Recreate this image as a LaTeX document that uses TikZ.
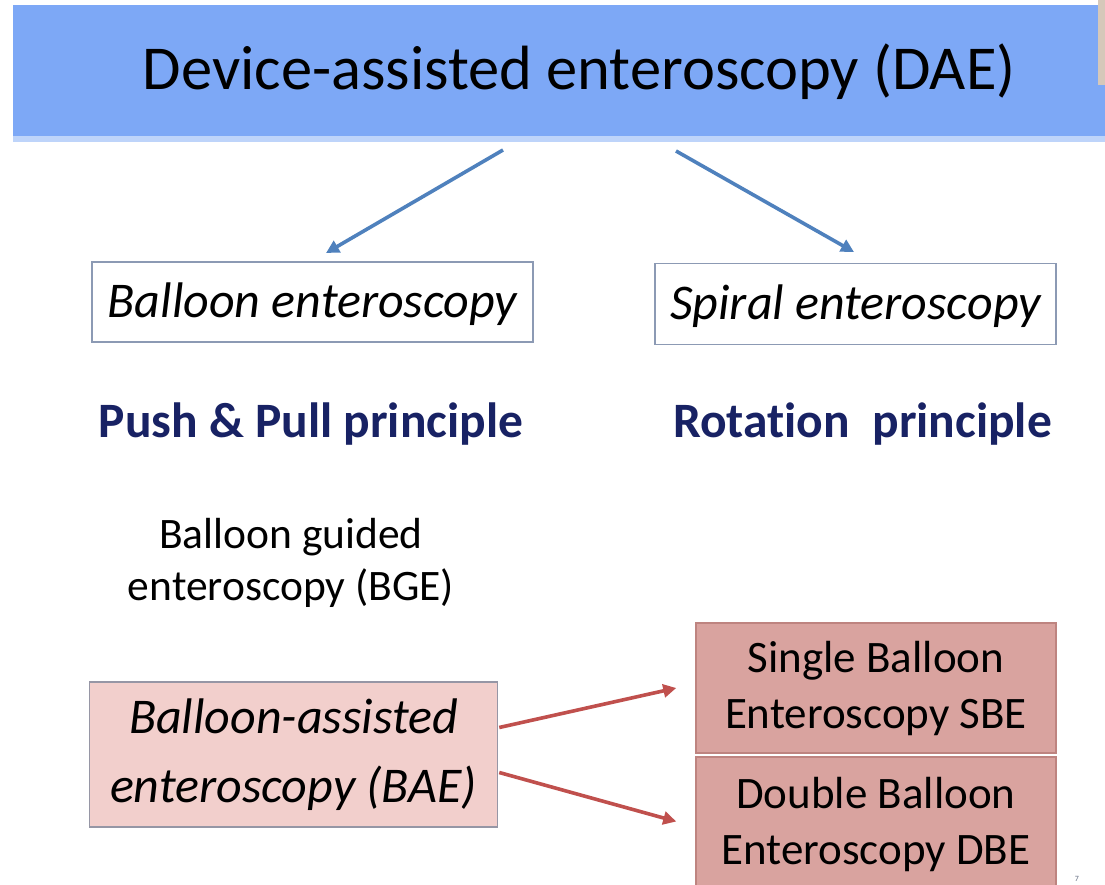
\documentclass[tikz,border=0pt]{standalone}
\usepackage{fontspec}
\setmainfont{Carlito}[Ligatures=NoCommon]
\usetikzlibrary{arrows.meta,calc}
\definecolor{bannerblue}{RGB}{125,168,246}
\definecolor{bannerlite}{RGB}{190,212,250}
\definecolor{arrowblue}{RGB}{79,129,189}
\definecolor{boxline}{RGB}{140,154,180}
\definecolor{navy}{RGB}{24,34,100}
\definecolor{baefill}{RGB}{242,207,204}
\definecolor{baeline}{RGB}{150,150,165}
\definecolor{sbefill}{RGB}{217,163,159}
\definecolor{sbeline}{RGB}{190,132,128}
\definecolor{arrowred}{RGB}{192,80,77}
\definecolor{edgegray}{RGB}{214,200,186}
\definecolor{pagenum}{RGB}{100,110,130}
\begin{document}
\begin{tikzpicture}[x=1pt,y=-1pt,
  bluearrow/.style={draw=arrowblue, line width=3.6pt, -{Triangle[length=13pt,width=13pt]}},
  redarrow/.style={draw=arrowred, line width=3.6pt, -{Triangle[length=13pt,width=13pt]}},
  whitebox/.style={draw=boxline, line width=1.5pt, fill=white, inner sep=0pt,
    font=\fontsize{50}{60}\selectfont\itshape, text height=40pt, text depth=10pt},
  principle/.style={anchor=base, text=navy, font=\fontsize{49.5}{60}\selectfont\bfseries},
  pinkbox/.style={draw=baeline, line width=1.5pt, fill=baefill, inner sep=0pt, align=center,
    font=\fontsize{50}{69}\selectfont\itshape},
  rosebox/.style={draw=sbeline, line width=1.5pt, fill=sbefill, inner sep=0pt, align=center,
    font=\fontsize{45}{56}\selectfont}
]
\useasboundingbox (0,0) rectangle (1105,885);
\fill[white] (0,0) rectangle (1105,885);
\fill[bannerlite] (13,134) rectangle (1105,142);
\node[fill=bannerblue, minimum width=1092pt, minimum height=131pt, inner sep=0pt,
  anchor=north west, font=\fontsize{62.5}{74}\selectfont, text height=48pt, text depth=11pt]
  (title) at (13,5) {\hspace*{40pt}Device-assisted enteroscopy (DAE)};
\fill[edgegray] (1098,0) rectangle (1105,85);

\node[whitebox, minimum width=441pt, minimum height=80pt] (balloon) at (312.5,302) {Balloon enteroscopy};
\node[whitebox, minimum width=401pt, minimum height=81pt] (spiral) at (855.5,304) {Spiral enteroscopy};

\node[principle] (push) at (311,437) {Push \& Pull principle};
\node[principle] (rotation) at (862.5,437) {Rotation\ \ principle};

\node[align=center, font=\fontsize{43.5}{52}\selectfont] (bge) at (291,563) {Balloon guided\\enteroscopy (BGE)};

\node[pinkbox, minimum width=408pt, minimum height=145pt] (bae) at (293.5,754.5) {Balloon-assisted\\enteroscopy (BAE)};

\node[rosebox, minimum width=360pt, minimum height=130pt] (sbe) at (876,688) {Single Balloon\\Enteroscopy SBE};
\node[rosebox, minimum width=360pt, minimum height=135pt] (dbe) at (876,824.5) {Double Balloon\\Enteroscopy DBE};

\node[font=\fontsize{8}{9}\selectfont, text=pagenum, inner sep=0pt] (pg) at (1077,879) {7};

\coordinate (b1s) at (503,150);
\coordinate (b1e) at (326,253);
\coordinate (b2s) at (676,151);
\coordinate (b2e) at (854,252);
\draw[bluearrow] (b1s) -- (b1e);
\draw[bluearrow] (b2s) -- (b2e);

\coordinate (r1s) at ($(bae.east)+(1,-27)$);
\coordinate (r1e) at ($(sbe.west)+(-19,0)$);
\coordinate (r2s) at ($(bae.east)+(1,18)$);
\coordinate (r2e) at ($(dbe.west)+(-19,-3)$);
\draw[redarrow] (r1s) -- (r1e);
\draw[redarrow] (r2s) -- (r2e);
\end{tikzpicture}
\end{document}
